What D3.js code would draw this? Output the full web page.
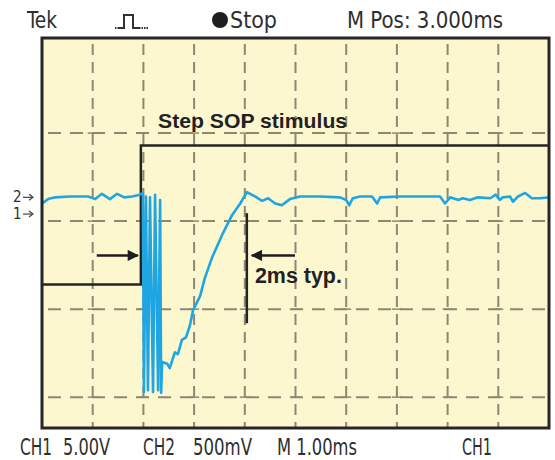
<!DOCTYPE html>
<html>
<head>
<meta charset="utf-8">
<script src="https://cdn.jsdelivr.net/npm/d3@7"></script>
<style>
body { margin: 0; background: #fff; }
text { font-family: "Liberation Sans Narrow", "Arial Narrow", "DejaVu Sans Condensed", sans-serif; fill: #2e2e2e; }
.note { font-family: "Liberation Sans", Arial, sans-serif; font-weight: bold; fill: #222; }
</style>
</head>
<body>
<div id="scope"></div>
<script>
// CH2 trace: time in ms (1 ms/div), level in divisions
var ch2Time  = [0, 0.12, 0.26, 0.55, 0.91, 1.05, 1.18, 1.34, 1.48, 1.62, 1.78, 1.93, 1.99,
                2.01, 2.05, 2.09, 2.13, 2.19, 2.23, 2.29, 2.33, 2.35,
                2.37, 2.47, 2.52, 2.62, 2.68, 2.76, 2.84, 2.92, 2.98, 3.06, 3.12, 3.21, 3.35, 3.55, 3.75, 3.91, 4.04,
                4.20, 4.34, 4.46, 4.60, 4.73, 4.89, 5.09, 5.48, 5.88, 6.00, 6.06, 6.13, 6.27, 6.51, 6.61, 6.67,
                7.06, 7.85, 7.95, 8.05, 8.21, 8.30, 8.44, 8.60, 8.84, 8.95, 9.03, 9.09, 9.23, 9.29, 9.39, 9.53, 9.66, 9.82, 10];
var ch2Level = [2.20, 2.25, 2.27, 2.28, 2.28, 2.25, 2.31, 2.25, 2.31, 2.27, 2.28, 2.30, 2.32,
                0.06, 2.28, 0.08, 2.27, 0.06, 2.30, 0.08, 2.24, 0.05,
                0.40, 0.38, 0.33, 0.51, 0.49, 0.65, 0.68, 0.82, 0.99, 1.08, 1.15, 1.35, 1.58, 1.84, 2.07, 2.20, 2.33,
                2.28, 2.23, 2.26, 2.20, 2.18, 2.25, 2.28, 2.28, 2.27, 2.24, 2.18, 2.26, 2.28, 2.28, 2.20, 2.27,
                2.28, 2.28, 2.20, 2.27, 2.24, 2.26, 2.24, 2.27, 2.26, 2.30, 2.24, 2.27, 2.28, 2.22, 2.28, 2.32, 2.26, 2.26, 2.27];

// CH1 step stimulus
var ch1Time  = [0, 1.95, 1.95, 10];
var ch1Level = [1.28, 1.28, 2.86, 2.86];

// annotation values
var markerTime = 4.04;
var markerLevels = [2.09, 0.84];
var arrowLevel = 1.61;
var leftArrow = [1.08, 1.89];
var rightArrow = [4.99, 4.14];
var channelRefs = [{ch: "2", level: 2.27}, {ch: "1", level: 2.08}];

var topLabels = ["Tek", "Stop", "M Pos: 3.000ms"];
var bottomLabels = ["CH1", "5.00V", "CH2", "500mV", "M 1.00ms", "CH1"];
var xGrid = d3.range(1, 10);
var yGrid = [0, 1, 2, 3];

var width = 555, height = 460;
var svg = d3.select("#scope").append("svg").attr("width", width).attr("height", height);

var x = d3.scaleLinear().domain([0, 10]).range([42, 549]);
var y = d3.scaleLinear().domain([-0.35, 4.08]).range([428, 38]);

var defs = svg.append("defs");
defs.append("clipPath").attr("id", "plotclip").append("rect")
  .attr("x", x(0)).attr("y", y(4.08)).attr("width", x(10) - x(0)).attr("height", y(-0.35) - y(4.08));
defs.append("marker").attr("id", "head").attr("viewBox", "0 0 10 10")
  .attr("refX", 9).attr("refY", 5).attr("markerWidth", 5).attr("markerHeight", 4.5)
  .attr("orient", "auto").attr("markerUnits", "strokeWidth")
  .append("path").attr("d", "M0,0L10,5L0,10Z").attr("fill", "#1e1e1e");

// screen background
svg.append("rect").attr("x", x(0)).attr("y", y(4.08))
  .attr("width", x(10) - x(0)).attr("height", y(-0.35) - y(4.08)).attr("fill", "#fdf7d0");

// graticule
var grid = svg.append("g").attr("stroke", "#8d8873").attr("stroke-width", 2);
grid.selectAll(".vg").data(xGrid).enter().append("line")
  .attr("x1", d => x(d)).attr("x2", d => x(d)).attr("y1", y(4.08)).attr("y2", y(-0.35))
  .attr("stroke-dasharray", "11,7").attr("stroke-dashoffset", -6);
grid.selectAll(".hg").data(yGrid).enter().append("line")
  .attr("x1", x(0)).attr("x2", x(10)).attr("y1", d => y(d)).attr("y2", d => y(d))
  .attr("stroke-dasharray", "13,9").attr("stroke-dashoffset", -6);
var cross = [];
xGrid.forEach(function(a) { yGrid.forEach(function(b) { cross.push([a, b]); }); });
grid.selectAll(".cx").data(cross).enter().append("line")
  .attr("x1", d => x(d[0]) - 5).attr("x2", d => x(d[0]) + 5)
  .attr("y1", d => y(d[1])).attr("y2", d => y(d[1])).attr("stroke-width", 1.5);

var plot = svg.append("g").attr("clip-path", "url(#plotclip)");

var line = d3.line().x(d => x(d[0])).y(d => y(d[1]));

// CH1 (black step)
plot.append("path").datum(d3.zip(ch1Time, ch1Level))
  .attr("d", line).attr("fill", "none").attr("stroke", "#232323").attr("stroke-width", 2.5);

// marker line and arrows
plot.append("line").attr("x1", x(markerTime)).attr("x2", x(markerTime))
  .attr("y1", y(markerLevels[0])).attr("y2", y(markerLevels[1]))
  .attr("stroke", "#232323").attr("stroke-width", 2.5);
[leftArrow, rightArrow].forEach(function(a) {
  plot.append("line").attr("x1", x(a[0])).attr("x2", x(a[1]))
    .attr("y1", y(arrowLevel)).attr("y2", y(arrowLevel))
    .attr("stroke", "#1e1e1e").attr("stroke-width", 2.5).attr("marker-end", "url(#head)");
});

// CH2 (blue)
plot.append("path").datum(d3.zip(ch2Time, ch2Level))
  .attr("d", line).attr("fill", "none").attr("stroke", "#1fa6e2")
  .attr("stroke-width", 2.6).attr("stroke-linejoin", "round");

// frame
svg.append("rect").attr("x", x(0)).attr("y", y(4.08))
  .attr("width", x(10) - x(0)).attr("height", y(-0.35) - y(4.08))
  .attr("fill", "none").attr("stroke", "#262626").attr("stroke-width", 3);

// notes
svg.append("text").attr("class", "note").attr("x", x(2.29)).attr("y", y(3.06))
  .attr("font-size", 21).attr("textLength", 189).attr("lengthAdjust", "spacingAndGlyphs")
  .text("Step SOP stimulus");
svg.append("text").attr("class", "note").attr("x", x(4.2)).attr("y", y(1.30))
  .attr("font-size", 22).attr("textLength", 87).attr("lengthAdjust", "spacingAndGlyphs")
  .text("2ms typ.");

// channel reference markers
var refs = svg.selectAll(".ref").data(channelRefs).enter().append("g");
refs.append("text").attr("x", 13).attr("y", d => y(d.level) + 5)
  .attr("font-size", 15).text(d => d.ch);
refs.append("line").attr("x1", 23).attr("x2", 32).attr("y1", d => y(d.level)).attr("y2", d => y(d.level))
  .attr("stroke", "#444").attr("stroke-width", 1.2);
refs.append("path").attr("d", d => "M29," + (y(d.level) - 3) + "L33," + y(d.level) + "L29," + (y(d.level) + 3))
  .attr("fill", "none").attr("stroke", "#444").attr("stroke-width", 1.2);

// header
var topX = [27, 230, 347], topW = [30, 47, 156];
svg.selectAll(".top").data(topLabels).enter().append("text")
  .attr("x", (d, i) => topX[i]).attr("y", 28).attr("font-size", 23)
  .attr("textLength", (d, i) => topW[i]).attr("lengthAdjust", "spacingAndGlyphs")
  .text(d => d);
svg.append("circle").attr("cx", 220).attr("cy", 20).attr("r", 8).attr("fill", "#1e1e1e");
// trigger pulse icon
svg.append("path").attr("d", "M119,28L124,28L124,15L133,15L133,28L139,28")
  .attr("fill", "none").attr("stroke", "#333").attr("stroke-width", 2);
svg.append("path").attr("d", "M115,28L119,28M139,28L148,28")
  .attr("fill", "none").attr("stroke", "#333").attr("stroke-width", 2).attr("stroke-dasharray", "1.5,1");

// footer
var botX = [20, 63, 143, 193, 277, 462], botW = [32, 47, 32, 59, 80, 30];
svg.selectAll(".bot").data(bottomLabels).enter().append("text")
  .attr("x", (d, i) => botX[i]).attr("y", 455).attr("font-size", 23)
  .attr("textLength", (d, i) => botW[i]).attr("lengthAdjust", "spacingAndGlyphs")
  .text(d => d);
</script>
</body>
</html>
